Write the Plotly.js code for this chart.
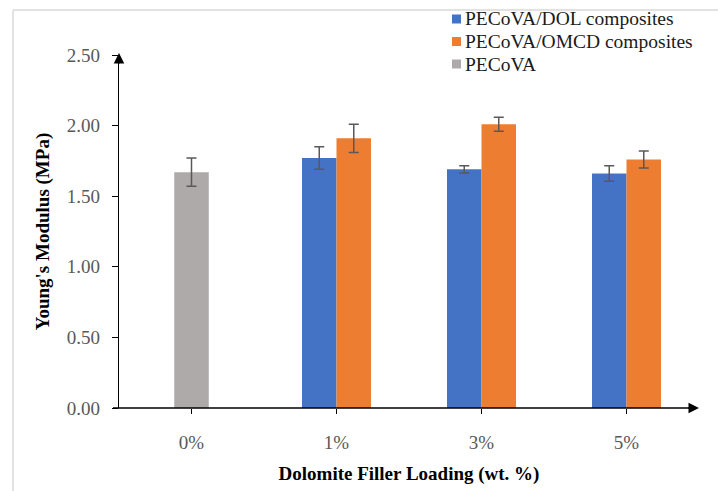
<!DOCTYPE html>
<html>
<head>
<meta charset="utf-8">
<script src="https://cdn.plot.ly/plotly-3.0.1.min.js"></script>
<style>
html,body{margin:0;padding:0;background:#fff;}
#chart{width:718px;height:491px;}
</style>
</head>
<body>
<div id="chart"></div>
<script>
// ---- data ----
const categories = ['0%', '1%', '3%', '5%'];
const seriesNames = ['PECoVA/DOL composites', 'PECoVA/OMCD composites', 'PECoVA'];
const dolX = ['1%', '3%', '5%'];
const dolValues = [1.77, 1.69, 1.66];
const dolErrors = [0.08, 0.025, 0.055];
const omcdX = ['1%', '3%', '5%'];
const omcdValues = [1.91, 2.01, 1.76];
const omcdErrors = [0.10, 0.05, 0.06];
const neatX = ['0%'];
const neatValues = [1.67];
const neatErrors = [0.10];
const yTicks = [0, 0.5, 1.0, 1.5, 2.0, 2.5];
const xTitle = 'Dolomite Filler Loading (wt. %)';
const yTitle = "Young's Modulus (MPa)";

// ---- style ----
const colors = ['#4472C4', '#ED7D31', '#AEAAAA'];
const FONT = '"Liberation Serif", "Times New Roman", serif';
const W = 718, H = 491;
const M = {l: 119, r: 19, t: 55, b: 83};
const plotW = W - M.l - M.r, plotH = H - M.t - M.b;
const px = x => (x - M.l) / plotW;
const py = y => (H - M.b - y) / plotH;
const barW = 0.238;

const errStyle = arr => ({type: 'data', array: arr, visible: true, color: '#595959', thickness: 1.5, width: 5});

const traces = [
  {type: 'bar', name: seriesNames[0], x: dolX, y: dolValues, width: barW, offset: -barW,
   marker: {color: colors[0], line: {width: 0}}, error_y: errStyle(dolErrors)},
  {type: 'bar', name: seriesNames[1], x: omcdX, y: omcdValues, width: barW, offset: 0,
   marker: {color: colors[1], line: {width: 0}}, error_y: errStyle(omcdErrors)},
  {type: 'bar', name: seriesNames[2], x: neatX, y: neatValues, width: barW, offset: -barW / 2,
   marker: {color: colors[2], line: {width: 0}}, error_y: errStyle(neatErrors)}
];

const shapes = [
  // outer light frame
  {type: 'line', xref: 'paper', yref: 'paper', x0: px(13), x1: px(13), y0: py(H + 5), y1: py(10), line: {color: '#D9D9D9', width: 1.5}},
  {type: 'line', xref: 'paper', yref: 'paper', x0: px(13), x1: px(W + 5), y0: py(10), y1: py(10), line: {color: '#D9D9D9', width: 1.5}},
  // x axis line extending slightly left
  {type: 'line', xref: 'paper', yref: 'paper', x0: px(113), x1: px(692), y0: 0, y1: 0, line: {color: '#000', width: 1.3}}
];
const annotations = [
  {xref: 'paper', yref: 'paper', x: px(699), y: 0, ax: -12, ay: 0, text: '', showarrow: true, arrowhead: 2, arrowsize: 1.4, arrowwidth: 1.5, arrowcolor: '#000'},
  {xref: 'paper', yref: 'paper', x: 0, y: py(53), ax: 0, ay: 12, text: '', showarrow: true, arrowhead: 2, arrowsize: 1.4, arrowwidth: 1.5, arrowcolor: '#000'}
];
// custom legend
const legendRows = [19, 41.5, 64];
seriesNames.forEach((n, i) => {
  shapes.push({type: 'rect', xref: 'paper', yref: 'paper', x0: px(452), x1: px(461),
    y0: py(legendRows[i] + 4.5), y1: py(legendRows[i] - 4.5), fillcolor: colors[i], line: {width: 0}});
  annotations.push({xref: 'paper', yref: 'paper', x: px(464), y: py(legendRows[i]), xanchor: 'left', yanchor: 'middle',
    text: n, showarrow: false, borderpad: 0, font: {family: FONT, size: 19.5, color: '#1a1a1a'}});
});

const layout = {
  width: W, height: H, autosize: false,
  margin: M,
  paper_bgcolor: '#fff', plot_bgcolor: '#fff',
  barmode: 'overlay',
  showlegend: false,
  font: {family: FONT, size: 19, color: '#595959'},
  xaxis: {
    type: 'category', categoryorder: 'array', categoryarray: categories,
    range: [-0.5, 3.5], showline: false, showgrid: false, zeroline: false,
    ticks: 'outside', ticklen: 5, tickwidth: 1, tickcolor: '#000',
    ticklabelstandoff: 12,
    tickfont: {family: FONT, size: 19, color: '#595959'},
    title: {text: xTitle, standoff: 14, font: {family: FONT, size: 19, color: '#000', weight: 'bold'}}
  },
  yaxis: {
    range: [0, 2.5], tickvals: yTicks, tickformat: '.2f',
    showline: true, linecolor: '#000', linewidth: 1.3, showgrid: false, zeroline: false,
    ticks: 'outside', ticklen: 6, tickwidth: 1, tickcolor: '#000',
    ticklabelstandoff: 8,
    tickfont: {family: FONT, size: 19, color: '#595959'},
    title: {text: yTitle, standoff: 12, font: {family: FONT, size: 19, color: '#000', weight: 'bold'}}
  },
  shapes: shapes,
  annotations: annotations
};

Plotly.newPlot('chart', traces, layout, {displayModeBar: false, staticPlot: true});
</script>
</body>
</html>
